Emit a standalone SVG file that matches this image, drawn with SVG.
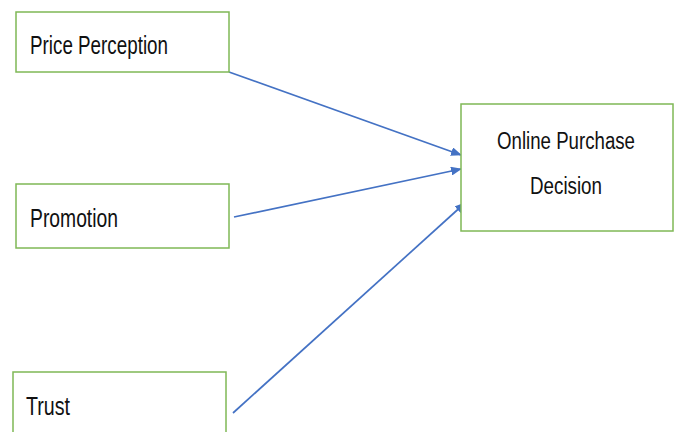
<svg xmlns="http://www.w3.org/2000/svg" width="677" height="432" viewBox="0 0 677 432">
<style>
.box{fill:#fff;stroke:#7fb856;stroke-width:1.5}
.t{font-family:"Liberation Sans Narrow","Liberation Sans",Arial,sans-serif;font-size:25px;fill:#111}
.d{font-size:23px}
.c{stroke:#4472c4;stroke-width:1.7;fill:none;marker-end:url(#ah)}
</style>
<defs>
<marker id="ah" markerWidth="11" markerHeight="9" refX="10" refY="4.5" orient="auto" markerUnits="userSpaceOnUse">
<path d="M0,0 L11,4.5 L0,9 Z" fill="#4472c4"/>
</marker>
</defs>
<rect width="677" height="432" fill="#fff"/>
<g id="connectors">
<line class="c" x1="229" y1="72" x2="461" y2="155"/>
<line class="c" x1="234" y1="217" x2="461" y2="169"/>
<line class="c" x1="233" y1="413" x2="465" y2="203"/>
</g>
<g id="price">
<rect class="box" x="16" y="12" width="213" height="60"/>
<text class="t" x="30" y="54" textLength="138" lengthAdjust="spacingAndGlyphs">Price Perception</text>
</g>
<g id="promotion">
<rect class="box" x="16" y="184" width="213" height="64"/>
<text class="t" x="30" y="227" textLength="88" lengthAdjust="spacingAndGlyphs">Promotion</text>
</g>
<g id="trust">
<rect class="box" x="13" y="372" width="213" height="70"/>
<text class="t" x="26" y="415" textLength="44" lengthAdjust="spacingAndGlyphs">Trust</text>
</g>
<g id="decision">
<rect class="box" x="461" y="104" width="212" height="127"/>
<text class="t d" x="497" y="149" textLength="138" lengthAdjust="spacingAndGlyphs">Online Purchase</text>
<text class="t d" x="530" y="194" textLength="72" lengthAdjust="spacingAndGlyphs">Decision</text>
</g>
</svg>
